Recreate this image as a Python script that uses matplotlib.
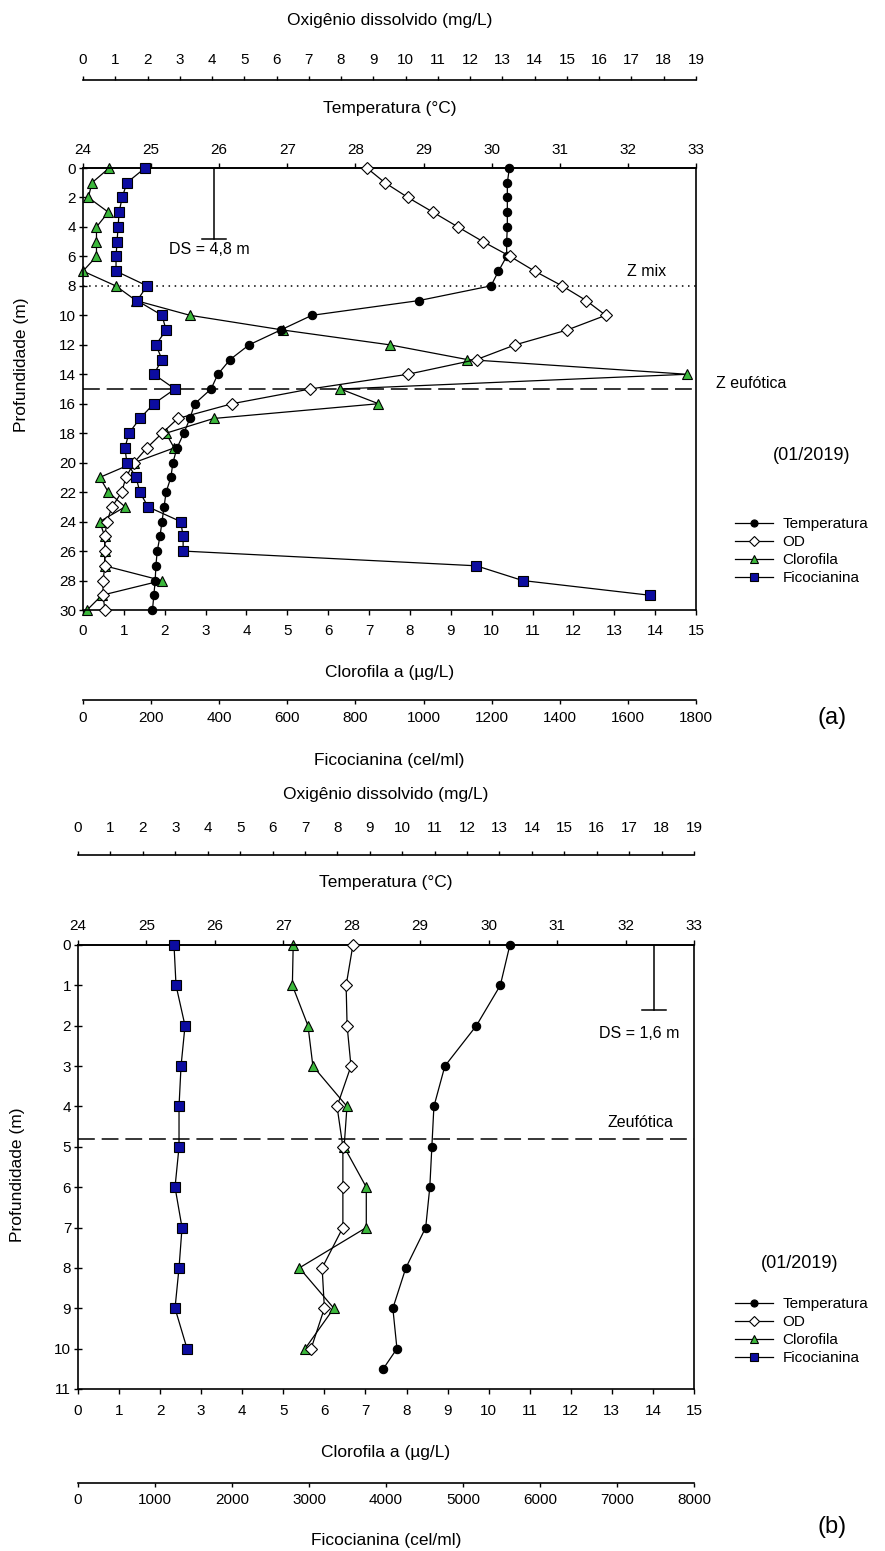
import matplotlib
matplotlib.use("Agg")
import matplotlib.pyplot as plt

plt.rcParams['font.family'] = ['Liberation Sans', 'DejaVu Sans']
plt.rcParams['axes.linewidth'] = 1.2

W, H = 885, 1551
DPI = 100

# ---- (a) perfil ate 30 m ----
prof_a = list(range(0, 31))
temp_a = [30.26, 30.23, 30.23, 30.23, 30.23, 30.22, 30.22, 30.10, 29.99, 28.93, 27.36,
          26.90, 26.44, 26.16, 25.98, 25.88, 25.64, 25.57, 25.48, 25.38, 25.32,
          25.29, 25.22, 25.19, 25.16, 25.13, 25.09, 25.07, 25.06, 25.04, 25.02]
od_a = [8.80, 9.36, 10.07, 10.85, 11.62, 12.40, 13.24, 14.00, 14.85, 15.60, 16.20,
        15.00, 13.40, 12.20, 10.07, 7.04, 4.62, 2.94, 2.45, 1.98, 1.58,
        1.33, 1.20, 0.90, 0.74, 0.68, 0.68, 0.68, 0.62, 0.62, 0.68]
clo_a = [0.64, 0.22, 0.13, 0.62, 0.33, 0.33, 0.33, 0.00, 0.80, 1.30, 2.62,
         4.90, 7.50, 9.40, 14.78, 6.30, 7.23, 3.20, 2.03, 2.23, 1.25,
         0.41, 0.62, 1.03, 0.41, 0.53, 0.53, 0.53, 1.93, 0.46, 0.10]
prof_fic_a = list(range(0, 30))
fic_a = [182, 129, 115, 106, 103, 100, 97, 97, 188, 159, 232, 244, 214, 232, 208,
         270, 208, 167, 135, 123, 129, 156, 167, 191, 287, 294, 294, 1155, 1291, 1665]
ds_a, zmix_a, zeuf_a = 4.8, 8, 15

# ---- (b) perfil ate 11 m ----
prof_b = list(range(0, 11))
prof_temp_b = list(range(0, 11)) + [10.5]
temp_b = [30.31, 30.17, 29.82, 29.36, 29.20, 29.17, 29.14, 29.08, 28.79, 28.60, 28.66, 28.46]
od_b = [8.48, 8.27, 8.30, 8.42, 7.99, 8.17, 8.17, 8.17, 7.53, 7.60, 7.19]
clo_b = [5.24, 5.22, 5.60, 5.72, 6.55, 6.48, 7.02, 7.02, 5.39, 6.23, 5.53]
fic_b = [1247, 1273, 1390, 1338, 1312, 1312, 1260, 1351, 1312, 1260, 1416]
ds_b, zeuf_b = 1.6, 4.8

VERDE = '#3cb83c'
AZUL = '#0c0ca0'


def caixa(x0, y0, x1, y1):
    return [x0 / W, 1 - y1 / H, (x1 - x0) / W, (y1 - y0) / H]


def pt(px):
    return px * 72 / DPI


def fy(px):
    return 1 - px / H


def titulo(axis, txt, cx, y, fig):
    axis.set_label_text(txt, va='center', fontsize=12.5)
    axis.set_label_coords(cx / W, fy(y), transform=fig.transFigure)


def perfil(fig, box, lay, prof_max, prof_ticks, fic_max, fic_step,
           prof, temp, prof_temp, od, clo, prof_fic, fic):
    x0, y0, x1, y1 = box
    cx = (x0 + x1) / 2
    ax = fig.add_axes(caixa(x0, y0, x1, y1))
    ax.set_xlim(0, 15)
    ax.set_ylim(prof_max, 0)
    ax.set_xticks(range(0, 16))
    ax.set_yticks(prof_ticks)
    ax.tick_params(axis='x', direction='out', length=pt(5), width=1, labelsize=11,
                   pad=pt(lay['clo_pad']))
    ax.tick_params(axis='y', direction='inout', length=pt(8), width=1, labelsize=11, pad=2)
    titulo(ax.xaxis, 'Clorofila a (µg/L)', cx, lay['clo_y'], fig)
    ax.set_ylabel('Profundidade (m)', va='center', fontsize=12.5)
    ax.yaxis.set_label_coords(lay['ylab'][0] / W, fy(lay['ylab'][1]), transform=fig.transFigure)

    # temperatura (topo do quadro)
    ax_t = ax.twiny()
    ax_t.set_xlim(24, 33)
    ax_t.set_xticks(range(24, 34))
    ax_t.tick_params(axis='x', direction='out', length=pt(5), width=1, labelsize=11,
                     pad=pt(lay['temp_pad']))
    for s in ['left', 'right', 'bottom']:
        ax_t.spines[s].set_visible(False)
    titulo(ax_t.xaxis, 'Temperatura (°C)', cx, lay['temp_y'], fig)

    # oxigenio dissolvido (eixo solto acima)
    ax_od = ax.twiny()
    ax_od.set_xlim(0, 19)
    ax_od.set_xticks(range(0, 20))
    ax_od.spines['top'].set_position(('outward', pt(lay['od_gap'])))
    ax_od.tick_params(axis='x', direction='out', length=pt(4), width=1, labelsize=11,
                      pad=pt(lay['od_pad']))
    for s in ['left', 'right', 'bottom']:
        ax_od.spines[s].set_visible(False)
    titulo(ax_od.xaxis, 'Oxigênio dissolvido (mg/L)', cx, lay['od_y'], fig)

    # ficocianina (eixo solto abaixo)
    ax_f = ax.twiny()
    ax_f.set_xlim(0, fic_max)
    ax_f.set_xticks(range(0, fic_max + 1, fic_step))
    ax_f.xaxis.set_ticks_position('bottom')
    ax_f.xaxis.set_label_position('bottom')
    ax_f.spines['bottom'].set_visible(True)
    ax_f.spines['bottom'].set_position(('outward', pt(lay['fic_gap'])))
    ax_f.tick_params(axis='x', direction='out', length=pt(4), width=1, labelsize=11,
                     pad=pt(lay['fic_pad']))
    for s in ['left', 'right', 'top']:
        ax_f.spines[s].set_visible(False)
    titulo(ax_f.xaxis, 'Ficocianina (cel/ml)', cx, lay['fic_y'], fig)

    estilo = dict(color='black', lw=0.9, mec='black', mew=0.8, clip_on=False)
    l_clo, = ax.plot(clo, prof, marker='^', ms=7, mfc=VERDE, label='Clorofila', **estilo)
    l_t, = ax_t.plot(temp, prof_temp, marker='o', ms=6, mfc='black', label='Temperatura', **estilo)
    l_od, = ax_od.plot(od, prof, marker='D', ms=6, mfc='white', label='OD', **estilo)
    l_f, = ax_f.plot(fic, prof_fic, marker='s', ms=6.5, mfc=AZUL, label='Ficocianina', **estilo)

    fig.legend(handles=[l_t, l_od, l_clo, l_f], loc='upper left',
               bbox_to_anchor=(735 / W, fy(lay['leg_top'])), frameon=False, fontsize=11,
               handlelength=2.5, handletextpad=0.6, labelspacing=0.27,
               borderpad=0, borderaxespad=0, markerscale=0.85)
    return ax


fig = plt.figure(figsize=(W / DPI, H / DPI), dpi=DPI)
fig.patch.set_facecolor('white')

# painel (a)
lay_a = dict(clo_pad=9, clo_y=673, temp_pad=6.5, temp_y=108, od_gap=88, od_pad=8.5, od_y=20,
             fic_gap=90, fic_pad=7, fic_y=760, ylab=(22, 365), leg_top=517)
ax_a = perfil(fig, (83, 168, 696, 610), lay_a, 30, range(0, 31, 2), 1800, 200,
              prof_a, temp_a, prof_a, od_a, clo_a, prof_fic_a, fic_a)
ax_a.axhline(zmix_a, color='black', lw=1.1, ls=(0, (1, 3)))
ax_a.axhline(zeuf_a, color='black', lw=1.1, ls=(0, (11, 4.5)))
ax_a.plot([3.2, 3.2], [0, ds_a], color='black', lw=1.1)
ax_a.plot([2.9, 3.5], [ds_a, ds_a], color='black', lw=1.1)
ax_a.text(3.08, 5.5, 'DS = 4,8 m', ha='center', va='center', fontsize=11.5)
ax_a.text(13.78, 7.0, 'Z mix', ha='center', va='center', fontsize=11.5)
ax_a.text(16.35, 14.6, 'Z eufótica', ha='center', va='center', fontsize=11.5, clip_on=False)
fig.text(812 / W, fy(455), '(01/2019)', ha='center', va='center', fontsize=13)
fig.text(832 / W, fy(718), '(a)', ha='center', va='center', fontsize=17)

# painel (b)
lay_b = dict(clo_pad=10, clo_y=1452, temp_pad=7.5, temp_y=883, od_gap=90, od_pad=16.5, od_y=795,
             fic_gap=94, fic_pad=6, fic_y=1540, ylab=(18, 1175), leg_top=1297)
ax_b = perfil(fig, (78, 945, 694, 1389), lay_b, 11, range(0, 12), 8000, 1000,
              prof_b, temp_b, prof_temp_b, od_b, clo_b, prof_b, fic_b)
ax_b.axhline(zeuf_b, color='black', lw=1.1, ls=(0, (11, 4.5)))
ax_b.plot([14.02, 14.02], [0, ds_b], color='black', lw=1.1)
ax_b.plot([13.73, 14.31], [ds_b, ds_b], color='black', lw=1.1)
ax_b.text(13.66, 2.2, 'DS = 1,6 m', ha='center', va='center', fontsize=11.5)
ax_b.text(13.69, 4.4, 'Zeufótica', ha='center', va='center', fontsize=11.5)
fig.text(800 / W, fy(1263), '(01/2019)', ha='center', va='center', fontsize=13)
fig.text(832 / W, fy(1527), '(b)', ha='center', va='center', fontsize=17)

fig.savefig('out.png', dpi=DPI)
